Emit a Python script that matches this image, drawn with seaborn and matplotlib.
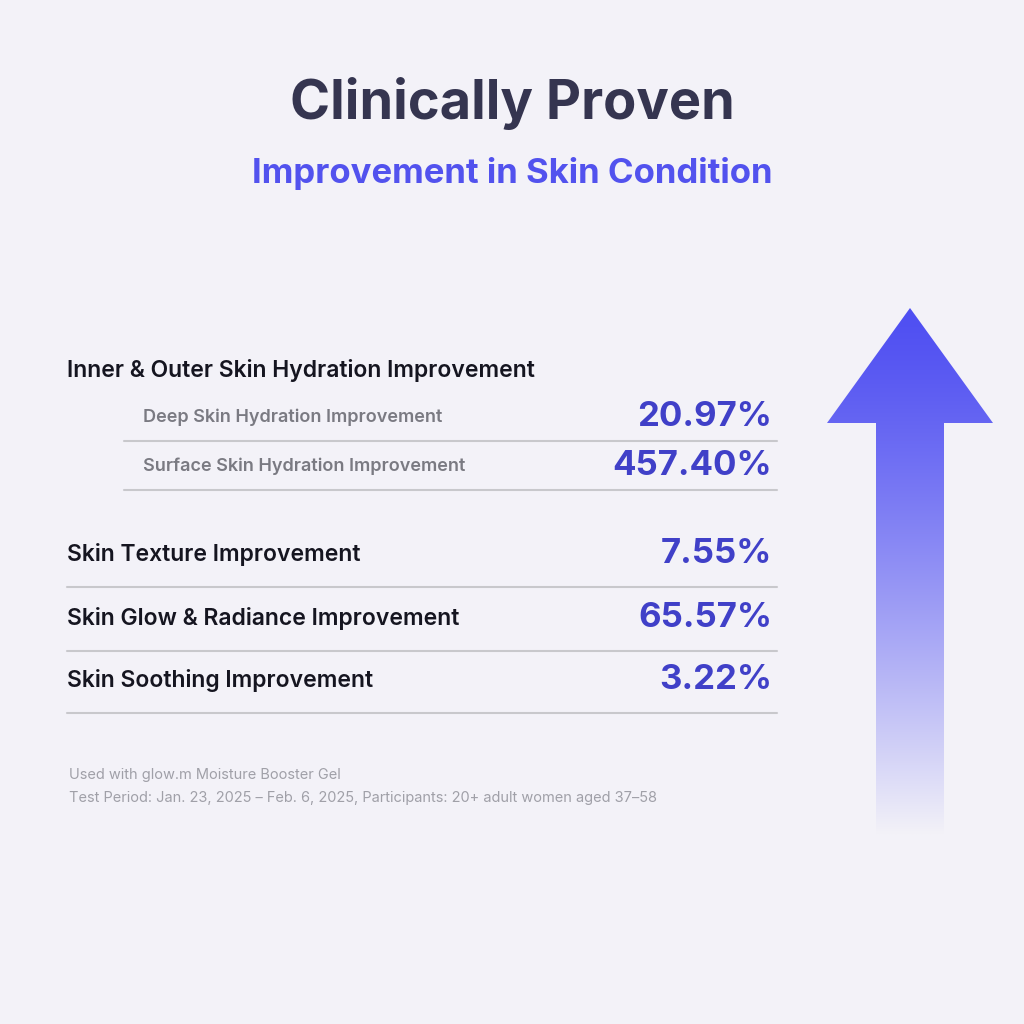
import matplotlib
matplotlib.use("Agg")
import matplotlib.pyplot as plt
import seaborn as sns
import numpy as np
from matplotlib.patches import Polygon

sns.set_theme(style="white")
plt.rcParams['font.family'] = ['Inter', 'DejaVu Sans']

title = "Clinically Proven"
subtitle = "Improvement in Skin Condition"
group_label = "Inner & Outer Skin Hydration Improvement"
sub_labels = ["Deep Skin Hydration Improvement", "Surface Skin Hydration Improvement"]
sub_values = ["20.97%", "457.40%"]
main_labels = ["Skin Texture Improvement", "Skin Glow & Radiance Improvement", "Skin Soothing Improvement"]
main_values = ["7.55%", "65.57%", "3.22%"]
footer = ["Used with glow.m Moisture Booster Gel",
          "Test Period: Jan. 23, 2025 – Feb. 6, 2025, Participants: 20+ adult women aged 37–58"]

bg = "#f3f2f8"
fig = plt.figure(figsize=(10.24, 10.24), dpi=100, facecolor=bg)
ax = fig.add_axes([0, 0, 1, 1])
ax.set_xlim(0, 1024); ax.set_ylim(1024, 0); ax.axis("off"); ax.set_facecolor(bg)

ax.text(512, 104, title, ha="center", va="center", fontsize=39, fontweight="bold", color="#353550")
ax.text(512, 174, subtitle, ha="center", va="center", fontsize=25, fontweight="bold", color="#5252ee")

ax.text(67, 370, group_label, ha="left", va="center", fontsize=16.5, fontweight="semibold", color="#151520")
line_c = "#c8c8cc"
for i, (l, v) in enumerate(zip(sub_labels, sub_values)):
    y = 417 + i * 49
    ax.text(143, y, l, ha="left", va="center", fontsize=13, fontweight="semibold", color="#7a7a82")
    ax.text(772, y, v, ha="right", va="center", fontsize=25, fontweight="bold", color="#4040c8")
    ax.plot([124, 777], [y + 24, y + 24], color=line_c, lw=1.5)

for i, (l, v) in enumerate(zip(main_labels, main_values)):
    y = [554, 618, 680][i]
    ax.text(67, y, l, ha="left", va="center", fontsize=16.5, fontweight="semibold", color="#151520")
    ax.text(772, y, v, ha="right", va="center", fontsize=25, fontweight="bold", color="#4040c8")
    ax.plot([67, 777], [y + 33, y + 33], color=line_c, lw=1.5)

ax.text(69, 775, footer[0], ha="left", va="center", fontsize=10.5, color="#a0a0a8")
ax.text(69, 798, footer[1], ha="left", va="center", fontsize=10.5, color="#a0a0a8")

# gradient arrow
top, bot = 308, 835
n = 256
t = np.linspace(0, 1, n)[:, None]
c0 = np.array([0x4f, 0x4f, 0xf2]) / 255
c1 = np.array([0xf3, 0xf2, 0xf8]) / 255
grad = (c0 * (1 - t[..., None] ** 1.3) + c1 * t[..., None] ** 1.3)
grad = np.repeat(grad, 2, axis=1)
im = ax.imshow(grad, extent=[826, 994, bot, top], aspect="auto", zorder=1)
poly = Polygon([[910, top], [993, 423], [944, 423], [944, bot], [876, bot], [876, 423], [827, 423]],
               closed=True, transform=ax.transData, fc="none", ec="none")
ax.add_patch(poly)
im.set_clip_path(poly)
ax.set_xlim(0, 1024); ax.set_ylim(1024, 0)

fig.savefig("out.png", dpi=100, facecolor=bg)
